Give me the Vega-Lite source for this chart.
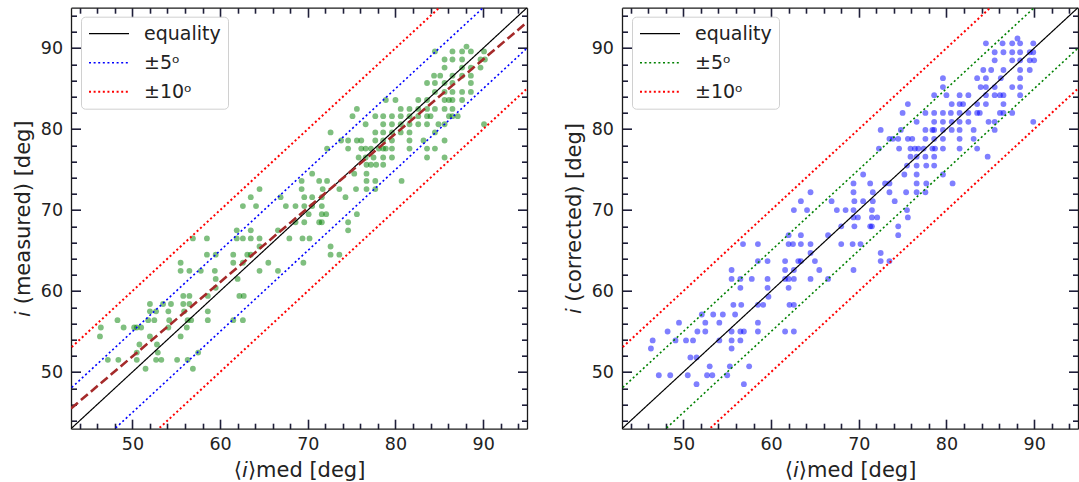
{
  "$schema": "https://vega.github.io/schema/vega-lite/v6.json",
  "padding": {"left": 12, "top": 6.7, "right": 0, "bottom": 0},
  "spacing": 95,
  "bounds": "flush",
  "config": {
    "font": "DejaVu Sans",
    "view": {"stroke": null},
    "axis": {
      "grid": false,
      "domainColor": "#1a1a1a",
      "domainWidth": 1.3,
      "tickColor": "#1f1f3a",
      "tickWidth": 1.6,
      "labelFont": "DejaVu Sans",
      "labelFontSize": 17.5,
      "labelColor": "#222222",
      "titleFont": "DejaVu Sans",
      "titleFontSize": 21,
      "titleFontWeight": "normal",
      "titleColor": "#222222"
    }
  },
  "resolve": {"scale": {"color": "independent", "strokeDash": "independent", "strokeWidth": "independent"}},
  "datasets": {
    "left": [
      {"x":88.1,"y":90.2},
      {"x":84.5,"y":89.6},{"x":86.5,"y":89.6},{"x":87.6,"y":89.6},{"x":88.6,"y":89.6},{"x":90.1,"y":89.6},
      {"x":85.6,"y":88.6},{"x":86.5,"y":88.6},{"x":87.6,"y":88.6},{"x":89.7,"y":88.6},{"x":90.2,"y":88.6},
      {"x":85.6,"y":87.6},{"x":87.6,"y":87.6},{"x":88.6,"y":87.6},{"x":89.7,"y":87.6},
      {"x":84.4,"y":86.6},{"x":85.1,"y":86.6},{"x":86.5,"y":86.6},{"x":87.6,"y":86.6},{"x":88.6,"y":86.6},
      {"x":83.6,"y":85.7},{"x":84.5,"y":85.7},{"x":85.6,"y":85.7},{"x":86.5,"y":85.7},{"x":88.6,"y":85.7},
      {"x":84.5,"y":84.6},{"x":85.6,"y":84.6},{"x":86.5,"y":84.6},{"x":87.6,"y":84.6},{"x":88.6,"y":84.6},
      {"x":78.9,"y":83.6},{"x":80.0,"y":83.6},{"x":82.6,"y":83.6},{"x":83.6,"y":83.6},{"x":85.6,"y":83.6},{"x":86.1,"y":83.6},{"x":86.5,"y":83.6},{"x":87.6,"y":83.6},
      {"x":75.6,"y":82.5},{"x":80.6,"y":82.5},{"x":81.6,"y":82.5},{"x":82.6,"y":82.5},{"x":83.6,"y":82.5},{"x":84.5,"y":82.5},{"x":85.6,"y":82.5},{"x":86.5,"y":82.5},
      {"x":75.1,"y":81.6},{"x":77.7,"y":81.6},{"x":78.6,"y":81.6},{"x":79.6,"y":81.6},{"x":80.6,"y":81.6},{"x":81.6,"y":81.6},{"x":82.6,"y":81.6},{"x":83.6,"y":81.6},{"x":84.0,"y":81.6},{"x":86.1,"y":81.6},{"x":86.5,"y":81.6},{"x":87.1,"y":81.6},
      {"x":76.6,"y":80.6},{"x":78.6,"y":80.6},{"x":79.6,"y":80.6},{"x":80.6,"y":80.6},{"x":81.6,"y":80.6},{"x":82.6,"y":80.6},{"x":83.6,"y":80.6},{"x":84.9,"y":80.6},{"x":85.6,"y":80.6},{"x":90.1,"y":80.6},
      {"x":72.6,"y":79.6},{"x":77.7,"y":79.6},{"x":78.6,"y":79.6},{"x":79.6,"y":79.6},{"x":80.6,"y":79.6},{"x":81.6,"y":79.6},{"x":84.5,"y":79.6},
      {"x":73.8,"y":78.6},{"x":74.6,"y":78.6},{"x":75.6,"y":78.6},{"x":76.1,"y":78.6},{"x":77.7,"y":78.6},{"x":78.6,"y":78.6},{"x":79.6,"y":78.6},{"x":81.6,"y":78.6},{"x":83.2,"y":78.6},{"x":85.6,"y":78.6},
      {"x":72.2,"y":77.6},{"x":74.6,"y":77.6},{"x":76.1,"y":77.6},{"x":76.6,"y":77.6},{"x":77.2,"y":77.6},{"x":78.1,"y":77.6},{"x":78.6,"y":77.6},{"x":78.9,"y":77.6},{"x":79.6,"y":77.6},{"x":81.6,"y":77.6},{"x":83.6,"y":77.6},{"x":84.5,"y":77.6},
      {"x":75.8,"y":76.5},{"x":76.6,"y":76.5},{"x":77.5,"y":76.5},{"x":78.6,"y":76.5},{"x":79.6,"y":76.5},{"x":83.6,"y":76.5},{"x":85.6,"y":76.5},
      {"x":76.7,"y":75.6},{"x":77.2,"y":75.6},{"x":77.8,"y":75.6},{"x":78.6,"y":75.6},
      {"x":70.5,"y":74.5},{"x":75.3,"y":74.5},{"x":76.7,"y":74.5},
      {"x":69.3,"y":73.6},{"x":71.3,"y":73.6},{"x":72.2,"y":73.6},{"x":76.7,"y":73.6},{"x":77.7,"y":73.6},{"x":80.7,"y":73.6},
      {"x":64.5,"y":72.6},{"x":69.3,"y":72.6},{"x":71.7,"y":72.6},{"x":73.6,"y":72.6},{"x":75.5,"y":72.6},{"x":76.7,"y":72.6},{"x":77.7,"y":72.6},
      {"x":63.5,"y":71.6},{"x":66.9,"y":71.6},{"x":69.6,"y":71.6},{"x":70.5,"y":71.6},{"x":71.6,"y":71.6},{"x":74.3,"y":71.6},
      {"x":62.6,"y":70.5},{"x":64.1,"y":70.5},{"x":67.5,"y":70.5},{"x":68.6,"y":70.5},{"x":69.6,"y":70.5},{"x":70.5,"y":70.5},{"x":71.6,"y":70.5},
      {"x":70.1,"y":69.5},{"x":71.6,"y":69.5},{"x":72.1,"y":69.5},{"x":75.6,"y":69.5},
      {"x":68.6,"y":68.5},{"x":69.6,"y":68.5},{"x":71.3,"y":68.5},{"x":71.6,"y":68.5},{"x":74.6,"y":68.5},
      {"x":61.9,"y":67.5},{"x":63.5,"y":67.5},{"x":66.6,"y":67.5},{"x":74.6,"y":67.5},
      {"x":56.9,"y":66.5},{"x":58.5,"y":66.5},{"x":61.9,"y":66.5},{"x":62.6,"y":66.5},{"x":63.5,"y":66.5},{"x":64.5,"y":66.5},{"x":67.9,"y":66.5},{"x":69.4,"y":66.5},{"x":70.2,"y":66.5},
      {"x":64.5,"y":65.5},{"x":72.6,"y":65.5},
      {"x":58.5,"y":64.5},{"x":59.5,"y":64.5},{"x":61.5,"y":64.5},{"x":63.1,"y":64.5},{"x":63.5,"y":64.5},{"x":72.6,"y":64.5},{"x":73.6,"y":64.5},
      {"x":55.5,"y":63.5},{"x":61.5,"y":63.5},{"x":62.6,"y":63.5},{"x":65.5,"y":63.5},{"x":69.5,"y":63.5},
      {"x":55.5,"y":62.5},{"x":56.5,"y":62.5},{"x":57.8,"y":62.5},{"x":59.4,"y":62.5},{"x":64.5,"y":62.5},{"x":66.6,"y":62.5},
      {"x":59.5,"y":61.5},{"x":62.0,"y":61.5},
      {"x":59.5,"y":60.4},
      {"x":55.8,"y":59.4},{"x":56.5,"y":59.4},{"x":58.6,"y":59.4},{"x":62.2,"y":59.4},{"x":62.7,"y":59.4},
      {"x":52.0,"y":58.4},{"x":53.5,"y":58.4},{"x":54.4,"y":58.4},{"x":55.8,"y":58.4},{"x":56.5,"y":58.4},
      {"x":52.0,"y":57.5},{"x":52.7,"y":57.5},{"x":54.1,"y":57.5},{"x":55.9,"y":57.5},{"x":58.6,"y":57.5},
      {"x":48.3,"y":56.4},{"x":51.8,"y":56.4},{"x":52.5,"y":56.4},{"x":54.2,"y":56.4},{"x":56.3,"y":56.4},{"x":56.7,"y":56.4},{"x":58.6,"y":56.4},{"x":61.5,"y":56.4},{"x":62.6,"y":56.4},
      {"x":46.4,"y":55.5},{"x":49.0,"y":55.5},{"x":50.2,"y":55.5},{"x":50.5,"y":55.5},{"x":51.0,"y":55.5},{"x":54.1,"y":55.5},{"x":56.2,"y":55.5},
      {"x":46.3,"y":54.4},{"x":52.0,"y":54.4},{"x":55.5,"y":54.4},
      {"x":50.8,"y":53.4},{"x":52.8,"y":53.4},
      {"x":50.5,"y":52.4},{"x":52.9,"y":52.4},{"x":57.5,"y":52.4},
      {"x":47.2,"y":51.5},{"x":48.4,"y":51.5},{"x":50.5,"y":51.5},{"x":52.7,"y":51.5},{"x":53.3,"y":51.5},{"x":55.1,"y":51.5},{"x":56.3,"y":51.5},
      {"x":51.5,"y":50.4},{"x":56.9,"y":50.4}
    ],
    "right": [
      {"x":88.1,"y":91.2},
      {"x":84.5,"y":90.6},{"x":86.4,"y":90.6},{"x":87.5,"y":90.6},{"x":88.4,"y":90.6},{"x":89.9,"y":90.6},
      {"x":85.5,"y":89.5},{"x":86.5,"y":89.5},{"x":87.5,"y":89.5},{"x":88.4,"y":89.5},{"x":89.5,"y":89.5},{"x":89.9,"y":89.5},
      {"x":85.5,"y":88.5},{"x":87.5,"y":88.5},{"x":88.4,"y":88.5},{"x":89.5,"y":88.5},{"x":90.0,"y":88.5},
      {"x":84.2,"y":87.3},{"x":85.1,"y":87.3},{"x":86.5,"y":87.3},{"x":88.4,"y":87.3},{"x":89.5,"y":87.3},
      {"x":79.6,"y":86.3},{"x":83.5,"y":86.3},{"x":84.5,"y":86.3},{"x":86.2,"y":86.3},{"x":88.4,"y":86.3},
      {"x":79.6,"y":85.2},{"x":83.9,"y":85.2},{"x":84.5,"y":85.2},{"x":85.5,"y":85.2},{"x":87.5,"y":85.2},{"x":88.4,"y":85.2},
      {"x":78.6,"y":84.2},{"x":80.0,"y":84.2},{"x":81.5,"y":84.2},{"x":82.5,"y":84.2},{"x":84.5,"y":84.2},{"x":85.5,"y":84.2},{"x":86.1,"y":84.2},{"x":86.5,"y":84.2},{"x":88.4,"y":84.2},
      {"x":75.6,"y":83.1},{"x":80.6,"y":83.1},{"x":81.5,"y":83.1},{"x":81.9,"y":83.1},{"x":83.5,"y":83.1},{"x":84.5,"y":83.1},{"x":86.5,"y":83.1},
      {"x":75.0,"y":82.0},{"x":77.6,"y":82.0},{"x":78.6,"y":82.0},{"x":79.6,"y":82.0},{"x":80.5,"y":82.0},{"x":81.5,"y":82.0},{"x":82.5,"y":82.0},{"x":83.5,"y":82.0},{"x":83.8,"y":82.0},{"x":86.1,"y":82.0},{"x":86.5,"y":82.0},{"x":87.5,"y":82.0},
      {"x":76.6,"y":80.9},{"x":78.6,"y":80.9},{"x":79.6,"y":80.9},{"x":80.6,"y":80.9},{"x":81.5,"y":80.9},{"x":82.5,"y":80.9},{"x":84.8,"y":80.9},{"x":85.5,"y":80.9},{"x":89.9,"y":80.9},
      {"x":72.5,"y":79.9},{"x":74.8,"y":79.9},{"x":77.6,"y":79.9},{"x":78.4,"y":79.9},{"x":78.6,"y":79.9},{"x":79.6,"y":79.9},{"x":80.6,"y":79.9},{"x":81.5,"y":79.9},{"x":83.1,"y":79.9},{"x":85.5,"y":79.9},
      {"x":73.5,"y":78.8},{"x":73.9,"y":78.8},{"x":74.5,"y":78.8},{"x":75.6,"y":78.8},{"x":76.1,"y":78.8},{"x":77.6,"y":78.8},{"x":78.6,"y":78.8},{"x":79.6,"y":78.8},{"x":81.5,"y":78.8},{"x":83.1,"y":78.8},
      {"x":72.3,"y":77.6},{"x":74.6,"y":77.6},{"x":75.9,"y":77.6},{"x":76.4,"y":77.6},{"x":76.8,"y":77.6},{"x":77.4,"y":77.6},{"x":78.4,"y":77.6},{"x":78.7,"y":77.6},{"x":79.6,"y":77.6},{"x":81.5,"y":77.6},{"x":83.5,"y":77.6},
      {"x":75.9,"y":76.6},{"x":76.6,"y":76.6},{"x":77.6,"y":76.6},{"x":78.6,"y":76.6},{"x":84.7,"y":76.6},
      {"x":75.5,"y":75.5},{"x":76.6,"y":75.5},{"x":77.7,"y":75.5},{"x":78.6,"y":75.5},
      {"x":70.5,"y":74.4},{"x":75.2,"y":74.4},{"x":76.6,"y":74.4},{"x":79.6,"y":74.4},
      {"x":69.4,"y":73.3},{"x":71.3,"y":73.3},{"x":73.0,"y":73.3},{"x":73.5,"y":73.3},{"x":76.6,"y":73.3},{"x":77.7,"y":73.3},{"x":80.7,"y":73.3},
      {"x":64.5,"y":72.2},{"x":69.4,"y":72.2},{"x":71.6,"y":72.2},{"x":73.5,"y":72.2},{"x":75.4,"y":72.2},{"x":76.6,"y":72.2},{"x":77.6,"y":72.2},
      {"x":63.4,"y":71.1},{"x":66.9,"y":71.1},{"x":69.5,"y":71.1},{"x":70.5,"y":71.1},{"x":71.6,"y":71.1},{"x":74.1,"y":71.1},
      {"x":62.6,"y":70.0},{"x":64.1,"y":70.0},{"x":67.5,"y":70.0},{"x":68.5,"y":70.0},{"x":69.4,"y":70.0},{"x":71.5,"y":70.0},{"x":75.5,"y":70.0},
      {"x":69.4,"y":69.1},{"x":69.9,"y":69.1},{"x":71.5,"y":69.1},{"x":72.1,"y":69.1},{"x":75.6,"y":69.1},
      {"x":68.0,"y":68.0},{"x":69.5,"y":68.0},{"x":71.3,"y":68.0},{"x":71.5,"y":68.0},{"x":74.5,"y":68.0},
      {"x":62.0,"y":66.9},{"x":63.4,"y":66.9},{"x":66.5,"y":66.9},{"x":74.5,"y":66.9},
      {"x":56.8,"y":65.8},{"x":58.5,"y":65.8},{"x":62.0,"y":65.8},{"x":62.5,"y":65.8},{"x":63.4,"y":65.8},{"x":64.5,"y":65.8},{"x":68.0,"y":65.8},{"x":69.3,"y":65.8},{"x":70.2,"y":65.8},
      {"x":64.5,"y":64.7},{"x":72.5,"y":64.7},
      {"x":58.5,"y":63.7},{"x":59.6,"y":63.7},{"x":61.6,"y":63.7},{"x":63.1,"y":63.7},{"x":63.4,"y":63.7},{"x":65.0,"y":63.7},{"x":72.5,"y":63.7},{"x":73.5,"y":63.7},
      {"x":55.5,"y":62.6},{"x":61.6,"y":62.6},{"x":62.6,"y":62.6},{"x":65.5,"y":62.6},{"x":69.4,"y":62.6},
      {"x":55.5,"y":61.5},{"x":56.5,"y":61.5},{"x":57.8,"y":61.5},{"x":59.6,"y":61.5},{"x":61.6,"y":61.5},{"x":62.0,"y":61.5},{"x":62.6,"y":61.5},{"x":64.5,"y":61.5},{"x":66.5,"y":61.5},
      {"x":56.5,"y":60.4},{"x":59.6,"y":60.4},{"x":62.0,"y":60.4},
      {"x":59.7,"y":59.3},
      {"x":55.7,"y":58.3},{"x":56.6,"y":58.3},{"x":58.5,"y":58.3},{"x":59.1,"y":58.3},{"x":62.1,"y":58.3},{"x":62.6,"y":58.3},
      {"x":52.1,"y":57.1},{"x":53.4,"y":57.1},{"x":54.5,"y":57.1},{"x":55.9,"y":57.1},
      {"x":49.5,"y":56.1},{"x":52.5,"y":56.1},{"x":54.1,"y":56.1},{"x":58.5,"y":56.1},
      {"x":48.2,"y":55.0},{"x":51.6,"y":55.0},{"x":52.5,"y":55.0},{"x":55.5,"y":55.0},{"x":56.5,"y":55.0},{"x":56.9,"y":55.0},{"x":58.5,"y":55.0},{"x":61.6,"y":55.0},{"x":62.6,"y":55.0},
      {"x":46.5,"y":53.9},{"x":49.1,"y":53.9},{"x":50.3,"y":53.9},{"x":51.1,"y":53.9},{"x":54.1,"y":53.9},{"x":55.5,"y":53.9},{"x":56.5,"y":53.9},
      {"x":46.3,"y":52.9},{"x":55.5,"y":52.9},
      {"x":50.8,"y":51.8},{"x":51.5,"y":51.8},
      {"x":53.0,"y":50.7},{"x":55.3,"y":50.7},{"x":57.5,"y":50.7},
      {"x":47.2,"y":49.6},{"x":48.5,"y":49.6},{"x":50.5,"y":49.6},{"x":52.7,"y":49.6},{"x":53.3,"y":49.6},{"x":55.0,"y":49.6},
      {"x":51.5,"y":48.5},{"x":56.9,"y":48.5}
    ],
    "guides": [
      {"s":"equality","g":"eq","x":40,"y":40},{"s":"equality","g":"eq","x":100,"y":100},
      {"s":"±5ᵒ","g":"p5","x":40,"y":45},{"s":"±5ᵒ","g":"p5","x":100,"y":105},
      {"s":"±5ᵒ","g":"m5","x":40,"y":35},{"s":"±5ᵒ","g":"m5","x":100,"y":95},
      {"s":"±10ᵒ","g":"p10","x":40,"y":50},{"s":"±10ᵒ","g":"p10","x":100,"y":110},
      {"s":"±10ᵒ","g":"m10","x":40,"y":30},{"s":"±10ᵒ","g":"m10","x":100,"y":90}
    ],
    "fit": [
      {"x":43,"y":45.5},{"x":95,"y":93.2}
    ]
  },
  "hconcat": [
    {
      "width": 456,
      "height": 421,
      "resolve": {"axis": {"x": "independent", "y": "independent"}},
      "layer": [
        {
          "data": {"name": "left"},
          "mark": {"type": "circle", "size": 34, "opacity": 0.5, "color": "#008000", "clip": true},
          "encoding": {
            "x": {"field": "x", "type": "quantitative", "scale": {"domain": [43, 95], "nice": false, "zero": false},
              "axis": {"orient": "bottom", "values": [44,46,48,50,52,54,56,58,60,62,64,66,68,70,72,74,76,78,80,82,84,86,88,90,92,94],
                "tickSize": {"condition": {"test": "datum.value % 10 === 0", "value": -9.5}, "value": -5.5},
                "labelExpr": "datum.value % 10 === 0 ? datum.label : ''", "labelPadding": 16.5, "labelOverlap": false, "labelFlush": false,
                "title": "⟨𝘪⟩med [deg]", "titlePadding": 2}},
            "y": {"field": "y", "type": "quantitative", "scale": {"domain": [43, 95], "nice": false, "zero": false},
              "axis": {"orient": "left", "values": [44,46,48,50,52,54,56,58,60,62,64,66,68,70,72,74,76,78,80,82,84,86,88,90,92,94],
                "tickSize": {"condition": {"test": "datum.value % 10 === 0", "value": -9.5}, "value": -5.5},
                "labelExpr": "datum.value % 10 === 0 ? datum.label : ''", "labelPadding": 18, "labelOverlap": false, "labelFlush": false,
                "title": "𝘪 (measured) [deg]", "titlePadding": 7}}
          }
        },
        {
          "data": {"name": "guides"},
          "mark": {"type": "line", "clip": true},
          "encoding": {
            "x": {"field": "x", "type": "quantitative", "scale": {"domain": [43, 95], "nice": false, "zero": false},
              "axis": {"orient": "top", "values": [44,46,48,50,52,54,56,58,60,62,64,66,68,70,72,74,76,78,80,82,84,86,88,90,92,94],
                "tickSize": {"condition": {"test": "datum.value % 10 === 0", "value": -9.5}, "value": -5.5},
                "labels": false, "title": null}},
            "y": {"field": "y", "type": "quantitative", "scale": {"domain": [43, 95], "nice": false, "zero": false},
              "axis": {"orient": "right", "values": [44,46,48,50,52,54,56,58,60,62,64,66,68,70,72,74,76,78,80,82,84,86,88,90,92,94],
                "tickSize": {"condition": {"test": "datum.value % 10 === 0", "value": -9.5}, "value": -5.5},
                "labels": false, "title": null}},
            "detail": {"field": "g"},
            "color": {"field": "s", "type": "nominal", "scale": {"domain": ["equality", "±5ᵒ", "±10ᵒ"], "range": ["#000000", "#0000ff", "#ff0000"]},
              "legend": {"title": null, "orient": "none", "legendX": 10, "legendY": 9, "symbolType": "stroke", "symbolSize": 1600, "symbolStrokeWidth": 1.6, "clipHeight": 20, "labelFontSize": 19, "labelFont": "DejaVu Sans", "labelColor": "#222222", "labelOffset": 14, "rowPadding": 9, "padding": 7, "strokeColor": "#d0d0d0", "fillColor": "rgba(255,255,255,0.85)", "cornerRadius": 4}},
            "strokeDash": {"field": "s", "type": "nominal", "scale": {"domain": ["equality", "±5ᵒ", "±10ᵒ"], "range": [[1, 0], [2, 2.6], [2, 2.6]]},
              "legend": {"title": null, "orient": "none", "legendX": 10, "legendY": 9, "symbolType": "stroke", "symbolSize": 1600, "symbolStrokeWidth": 1.6, "clipHeight": 20, "labelFontSize": 19, "labelFont": "DejaVu Sans", "labelColor": "#222222", "labelOffset": 14, "rowPadding": 9, "padding": 7, "strokeColor": "#d0d0d0", "fillColor": "rgba(255,255,255,0.85)", "cornerRadius": 4}},
            "strokeWidth": {"field": "s", "type": "nominal", "scale": {"domain": ["equality", "±5ᵒ", "±10ᵒ"], "range": [1.2, 2, 2]}, "legend": null}
          }
        },
        {
          "data": {"name": "fit"},
          "mark": {"type": "line", "color": "#a52a2a", "strokeWidth": 2.6, "strokeDash": [9, 4], "clip": true},
          "encoding": {
            "x": {"field": "x", "type": "quantitative", "scale": {"domain": [43, 95], "nice": false, "zero": false}, "axis": null},
            "y": {"field": "y", "type": "quantitative", "scale": {"domain": [43, 95], "nice": false, "zero": false}, "axis": null}
          }
        }
      ]
    },
    {
      "width": 456,
      "height": 421,
      "resolve": {"axis": {"x": "independent", "y": "independent"}},
      "layer": [
        {
          "data": {"name": "right"},
          "mark": {"type": "circle", "size": 34, "opacity": 0.5, "color": "#0000ff", "clip": true},
          "encoding": {
            "x": {"field": "x", "type": "quantitative", "scale": {"domain": [43, 95], "nice": false, "zero": false},
              "axis": {"orient": "bottom", "values": [44,46,48,50,52,54,56,58,60,62,64,66,68,70,72,74,76,78,80,82,84,86,88,90,92,94],
                "tickSize": {"condition": {"test": "datum.value % 10 === 0", "value": -9.5}, "value": -5.5},
                "labelExpr": "datum.value % 10 === 0 ? datum.label : ''", "labelPadding": 16.5, "labelOverlap": false, "labelFlush": false,
                "title": "⟨𝘪⟩med [deg]", "titlePadding": 2}},
            "y": {"field": "y", "type": "quantitative", "scale": {"domain": [43, 95], "nice": false, "zero": false},
              "axis": {"orient": "left", "values": [44,46,48,50,52,54,56,58,60,62,64,66,68,70,72,74,76,78,80,82,84,86,88,90,92,94],
                "tickSize": {"condition": {"test": "datum.value % 10 === 0", "value": -9.5}, "value": -5.5},
                "labelExpr": "datum.value % 10 === 0 ? datum.label : ''", "labelPadding": 18, "labelOverlap": false, "labelFlush": false,
                "title": "𝘪 (corrected) [deg]", "titlePadding": 7}}
          }
        },
        {
          "data": {"name": "guides"},
          "mark": {"type": "line", "clip": true},
          "encoding": {
            "x": {"field": "x", "type": "quantitative", "scale": {"domain": [43, 95], "nice": false, "zero": false},
              "axis": {"orient": "top", "values": [44,46,48,50,52,54,56,58,60,62,64,66,68,70,72,74,76,78,80,82,84,86,88,90,92,94],
                "tickSize": {"condition": {"test": "datum.value % 10 === 0", "value": -9.5}, "value": -5.5},
                "labels": false, "title": null}},
            "y": {"field": "y", "type": "quantitative", "scale": {"domain": [43, 95], "nice": false, "zero": false},
              "axis": {"orient": "right", "values": [44,46,48,50,52,54,56,58,60,62,64,66,68,70,72,74,76,78,80,82,84,86,88,90,92,94],
                "tickSize": {"condition": {"test": "datum.value % 10 === 0", "value": -9.5}, "value": -5.5},
                "labels": false, "title": null}},
            "detail": {"field": "g"},
            "color": {"field": "s", "type": "nominal", "scale": {"domain": ["equality", "±5ᵒ", "±10ᵒ"], "range": ["#000000", "#008000", "#ff0000"]},
              "legend": {"title": null, "orient": "none", "legendX": 10, "legendY": 9, "symbolType": "stroke", "symbolSize": 1600, "symbolStrokeWidth": 1.6, "clipHeight": 20, "labelFontSize": 19, "labelFont": "DejaVu Sans", "labelColor": "#222222", "labelOffset": 14, "rowPadding": 9, "padding": 7, "strokeColor": "#d0d0d0", "fillColor": "rgba(255,255,255,0.85)", "cornerRadius": 4}},
            "strokeDash": {"field": "s", "type": "nominal", "scale": {"domain": ["equality", "±5ᵒ", "±10ᵒ"], "range": [[1, 0], [2, 2.6], [2, 2.6]]},
              "legend": {"title": null, "orient": "none", "legendX": 10, "legendY": 9, "symbolType": "stroke", "symbolSize": 1600, "symbolStrokeWidth": 1.6, "clipHeight": 20, "labelFontSize": 19, "labelFont": "DejaVu Sans", "labelColor": "#222222", "labelOffset": 14, "rowPadding": 9, "padding": 7, "strokeColor": "#d0d0d0", "fillColor": "rgba(255,255,255,0.85)", "cornerRadius": 4}},
            "strokeWidth": {"field": "s", "type": "nominal", "scale": {"domain": ["equality", "±5ᵒ", "±10ᵒ"], "range": [1.2, 2, 2]}, "legend": null}
          }
        }
      ]
    }
  ]
}
